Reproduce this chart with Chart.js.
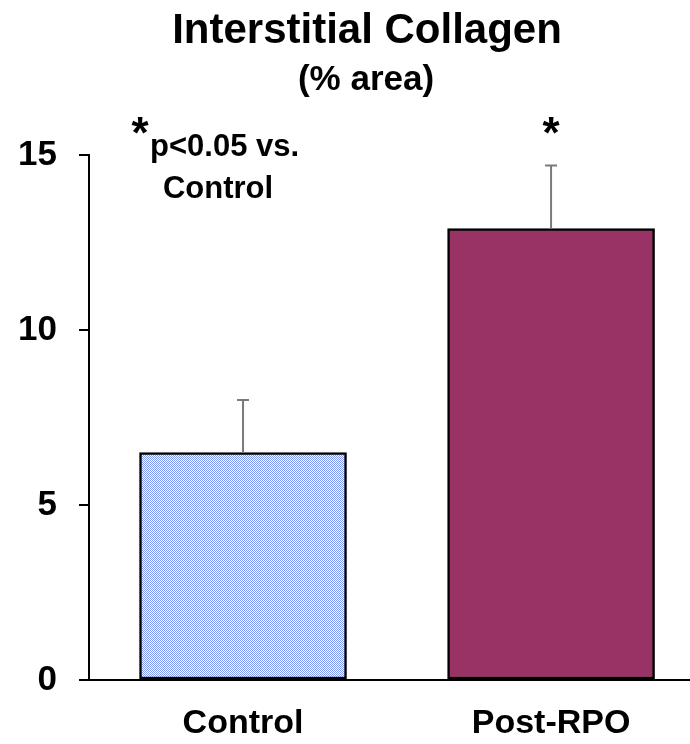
<!DOCTYPE html>
<html>
<head>
<meta charset="utf-8">
<script src="https://cdn.jsdelivr.net/npm/chart.js@4.4.1/dist/chart.umd.min.js"></script>
<style>
  html, body { margin: 0; padding: 0; background: #fff; }
  #wrap { width: 690px; height: 744px; }
</style>
</head>
<body>
<div id="wrap"><canvas id="chart"></canvas></div>
<script>
// data
const categories = ["Control", "Post-RPO"];
const means = [6.5, 12.9];
const errorTops = [8.0, 14.7];
const yTicks = [0, 5, 10, 15];

const titleText = "Interstitial Collagen";
const subtitleText = "(% area)";
const noteLine1 = "p<0.05 vs.";
const noteLine2 = "Control";

const FONT = "'Liberation Sans', Arial, sans-serif";

// fine blue checker fill for the control bar
function makeChecker() {
    const c = document.createElement('canvas');
    c.width = 2;
    c.height = 2;
    const g = c.getContext('2d');
    g.fillStyle = '#ffffff';
    g.fillRect(0, 0, 2, 2);
    g.fillStyle = '#7f98f2';
    g.fillRect(0, 0, 1, 1);
    g.fillRect(1, 1, 1, 1);
    return g.createPattern(c, 'repeat');
}

const errorBars = {
    id: 'errorBars',
    afterDatasetsDraw(chart) {
        const ctx = chart.ctx;
        const x = chart.scales.x, y = chart.scales.y;
        ctx.save();
        ctx.strokeStyle = '#7a7a7a';
        ctx.lineWidth = 2;
        means.forEach((m, i) => {
            const px = x.getPixelForValue(i);
            const y0 = y.getPixelForValue(m);
            const y1 = y.getPixelForValue(errorTops[i]);
            ctx.beginPath();
            ctx.moveTo(px, y0);
            ctx.lineTo(px, y1);
            ctx.moveTo(px - 6, y1);
            ctx.lineTo(px + 6, y1);
            ctx.stroke();
        });
        ctx.restore();
    }
};

const labelsPlugin = {
    id: 'labelsPlugin',
    afterDraw(chart) {
        const ctx = chart.ctx;
        const x = chart.scales.x;
        ctx.save();
        ctx.fillStyle = '#000';
        ctx.textAlign = 'center';
        ctx.textBaseline = 'alphabetic';
        ctx.font = `bold 42px ${FONT}`;
        ctx.fillText(titleText, 367, 43);
        ctx.font = `bold 35px ${FONT}`;
        ctx.fillText(subtitleText, 366, 90);

        // significance note
        ctx.font = `bold 44px ${FONT}`;
        ctx.fillText("*", 140, 148);
        ctx.fillText("*", x.getPixelForValue(1), 148);
        ctx.font = `bold 31px ${FONT}`;
        ctx.textAlign = 'left';
        ctx.fillText(noteLine1, 150, 156);
        ctx.textAlign = 'center';
        ctx.fillText(noteLine2, 218, 198);
        ctx.restore();
    }
};

const ctx = document.getElementById('chart');
new Chart(ctx, {
    type: 'bar',
    data: {
        datasets: [{
            data: means.map((v, i) => ({ x: i, y: v })),
            backgroundColor: [makeChecker(), '#993366'],
            borderColor: '#000',
            borderWidth: 2.5,
            borderSkipped: false,
            barThickness: 207
        }]
    },
    options: {
        responsive: true,
        maintainAspectRatio: false,
        animation: false,
        layout: { padding: { top: 155, right: 0, left: 0, bottom: 0 } },
        plugins: {
            legend: { display: false },
            tooltip: { enabled: false }
        },
        scales: {
            x: {
                type: 'linear',
                offset: false,
                min: -0.5,
                max: 1.451,
                afterBuildTicks: (axis) => {
                    axis.ticks = categories.map((c, i) => ({ value: i }));
                },
                afterFit: (axis) => { axis.height = 64; },
                ticks: {
                    callback: (v) => categories[v],
                    color: '#000',
                    font: { family: FONT, size: 34, weight: 'bold' },
                    padding: 23,
                    maxRotation: 0
                },
                grid: { display: false, drawTicks: false, offset: false },
                border: { display: true, color: '#000', width: 2 }
            },
            y: {
                min: 0,
                max: 15,
                afterBuildTicks: (axis) => {
                    axis.ticks = yTicks.map(v => ({ value: v }));
                },
                afterFit: (axis) => { axis.width = 89; },
                ticks: {
                    color: '#000',
                    font: { family: FONT, size: 35, weight: 'bold' },
                    padding: 22
                },
                grid: {
                    drawOnChartArea: false,
                    drawTicks: true,
                    tickLength: 10,
                    color: '#000',
                    lineWidth: 2
                },
                border: { display: true, color: '#000', width: 2 }
            }
        }
    },
    plugins: [errorBars, labelsPlugin]
});
</script>
</body>
</html>
